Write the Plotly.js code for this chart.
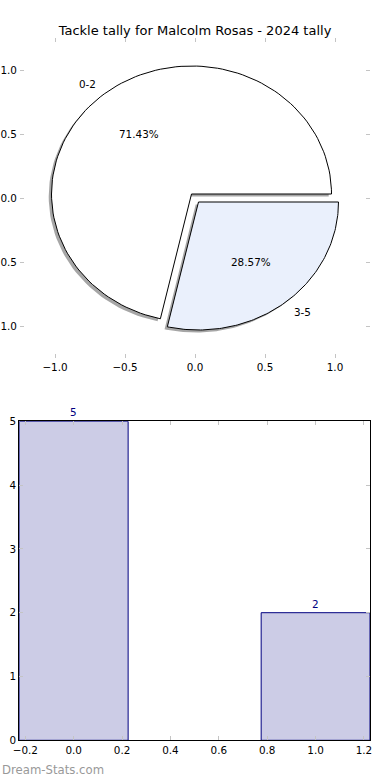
<!DOCTYPE html>
<html>
<head>
<meta charset="utf-8">
<script src="https://cdn.plot.ly/plotly-3.0.1.min.js"></script>
<style>html,body{margin:0;padding:0;background:#fff;}#chart{width:390px;height:780px;}</style>
</head>
<body>
<div id="chart"></div>
<script>
// ---- data ----
const chartTitle = 'Tackle tally for Malcolm Rosas - 2024 tally';
const categories = ['0-2', '3-5'];
const tallies = [5, 2];
const barPositions = [0, 1];
const explodeVals = [0.04, 0.04];
const pieTicks = [-1.0, -0.5, 0.0, 0.5, 1.0];
const barXTicks = [-0.2, 0.0, 0.2, 0.4, 0.6, 0.8, 1.0, 1.2];
const barYTicks = [0, 1, 2, 3, 4, 5];
const watermark = 'Dream-Stats.com';

// ---- styles ----
const FONT = 'DejaVu Sans, sans-serif';
const sliceColors = ['#ffffff', '#eaf0fc'];
const barFill = '#ccccE6';
const barEdge = '#000080';
const tickGrey = '#c4c4c4';
const W = 390, H = 780;

const total = tallies.reduce((a, b) => a + b, 0);
const traces = [];
const wedgeTraces = [];
const shadowTraces = [];
const annotations = [];
let acc = 0;
tallies.forEach((v, i) => {
  const frac = v / total;
  const t1 = acc * 2 * Math.PI;
  const t2 = (acc + frac) * 2 * Math.PI;
  acc += frac;
  const mid = (t1 + t2) / 2;
  const cx = explodeVals[i] * Math.cos(mid);
  const cy = explodeVals[i] * Math.sin(mid);
  const n = 120;
  const xs = [cx], ys = [cy];
  for (let k = 0; k <= n; k++) {
    const t = t1 + (t2 - t1) * k / n;
    xs.push(cx + Math.cos(t));
    ys.push(cy + Math.sin(t));
  }
  xs.push(cx); ys.push(cy);
  shadowTraces.push({
    type: 'scatter', mode: 'lines', x: xs.map(p => p - 0.02), y: ys.map(p => p - 0.02),
    fill: 'toself', fillcolor: 'rgba(77,77,77,0.5)', line: {width: 0, color: 'rgba(0,0,0,0)'},
    xaxis: 'x', yaxis: 'y', hoverinfo: 'skip', showlegend: false
  });
  wedgeTraces.push({
    type: 'scatter', mode: 'lines', x: xs, y: ys,
    fill: 'toself', fillcolor: sliceColors[i], line: {width: 1, color: '#000000'},
    xaxis: 'x', yaxis: 'y', hoverinfo: 'skip', showlegend: false
  });
  const lx = cx + 1.1 * Math.cos(mid), ly = cy + 1.1 * Math.sin(mid);
  annotations.push({
    x: lx, y: ly, xref: 'x', yref: 'y', text: categories[i], showarrow: false,
    xanchor: lx < 0 ? 'right' : 'left', yanchor: 'middle', xshift: lx < 0 ? 3 : -3,
    font: {family: FONT, size: 10.4, color: '#000'}
  });
  annotations.push({
    x: cx + 0.6 * Math.cos(mid), y: cy + 0.6 * Math.sin(mid), xref: 'x', yref: 'y',
    text: (frac * 100).toFixed(2) + '%', showarrow: false,
    xanchor: 'center', yanchor: 'middle',
    font: {family: FONT, size: 10.4, color: '#000'}
  });
});
traces.push(...shadowTraces, ...wedgeTraces);

traces.push({
  type: 'bar', x: barPositions, y: tallies, width: 0.45,
  marker: {color: barFill, line: {color: barEdge, width: 1}},
  xaxis: 'x2', yaxis: 'y2', hoverinfo: 'skip', showlegend: false
});
barPositions.forEach((p, i) => {
  annotations.push({
    x: p, y: tallies[i], xref: 'x2', yref: 'y2', text: String(tallies[i]), showarrow: false,
    xanchor: 'center', yanchor: 'bottom', yshift: 1,
    font: {family: FONT, size: 10.4, color: barEdge}
  });
});
annotations.push({
  x: 0, y: 1 - 770 / H, xref: 'paper', yref: 'paper', text: watermark, showarrow: false,
  xanchor: 'left', yanchor: 'middle', font: {family: FONT, size: 11.7, color: '#999999'}
});

const tickFont = {family: FONT, size: 10.4, color: '#000'};
const pieAxis = {
  range: [-1.25, 1.25], tickvals: pieTicks, tickformat: '.1f', showgrid: false, zeroline: false,
  showline: true, linecolor: 'rgba(0,0,0,0)', mirror: 'ticks', ticks: 'inside', ticklen: 4,
  tickcolor: tickGrey, tickwidth: 1, tickfont: tickFont, fixedrange: true
};
const layout = {
  width: W, height: H, margin: {l: 0, r: 0, t: 0, b: 0},
  paper_bgcolor: '#fff', plot_bgcolor: 'rgba(0,0,0,0)', showlegend: false,
  title: {text: chartTitle, x: 195 / W, xanchor: 'center', y: 1 - 30 / H, yanchor: 'middle',
          font: {family: FONT, size: 13, color: '#000'}},
  xaxis: Object.assign({}, pieAxis, {domain: [20 / W, 370 / W], anchor: 'y'}),
  yaxis: Object.assign({}, pieAxis, {domain: [1 - 358 / H, 1 - 38 / H], anchor: 'x'}),
  xaxis2: {
    domain: [19.3 / W, 370 / W], anchor: 'y2', range: [-0.225, 1.225], tickvals: barXTicks,
    tickformat: '.1f', showgrid: false, zeroline: false, showline: true, linecolor: '#000',
    linewidth: 1, mirror: 'ticks', ticks: 'inside', ticklen: 4, tickcolor: tickGrey,
    tickfont: tickFont, fixedrange: true
  },
  yaxis2: {
    domain: [1 - 740.3 / H, 1 - 421.3 / H], anchor: 'x2', range: [0, 5], tickvals: barYTicks,
    showgrid: false, zeroline: false, showline: true, linecolor: '#000', linewidth: 1,
    mirror: 'ticks', ticks: 'inside', ticklen: 4, tickcolor: tickGrey,
    tickfont: tickFont, fixedrange: true
  },
  annotations: annotations
};
Plotly.newPlot('chart', traces, layout, {staticPlot: true, displayModeBar: false});
</script>
</body>
</html>
